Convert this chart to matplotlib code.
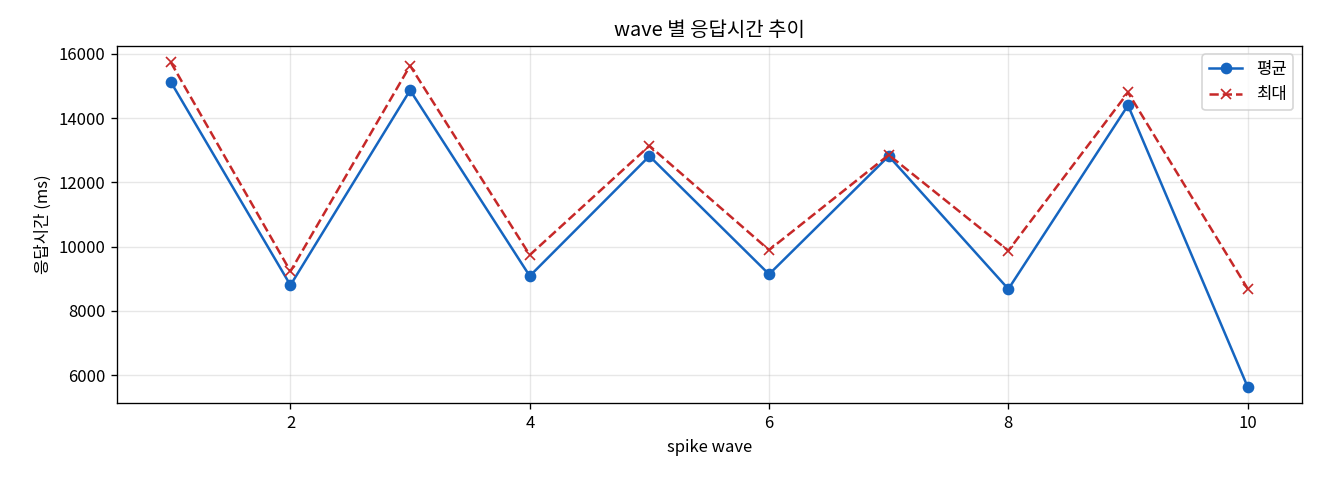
import numpy as np
import matplotlib
matplotlib.use('Agg')
import matplotlib.pyplot as plt

plt.rcParams['font.family'] = ['Noto Sans CJK KR', 'DejaVu Sans']
plt.rcParams['axes.unicode_minus'] = False

# 데이터
waves = [1, 2, 3, 4, 5, 6, 7, 8, 9, 10]
avg_ms = [15130, 8800, 14870, 9085, 12820, 9140, 12820, 8680, 14400, 5630]
max_ms = [15740, 9230, 15635, 9740, 13140, 9895, 12855, 9875, 14800, 8690]

fig, ax = plt.subplots(figsize=(11, 4), dpi=120)
ax.plot(waves, avg_ms, marker='o', linestyle='-', color='#1565C0', label='평균')
ax.plot(waves, max_ms, marker='x', linestyle='--', color='#C62828', label='최대')
ax.set_xlabel('spike wave')
ax.set_ylabel('응답시간 (ms)')
ax.set_title('wave 별 응답시간 추이')
ax.legend()
ax.grid(True, alpha=0.3)
fig.subplots_adjust(left=0.0886, right=0.986, top=0.904, bottom=0.160)
fig.savefig('out.png')
